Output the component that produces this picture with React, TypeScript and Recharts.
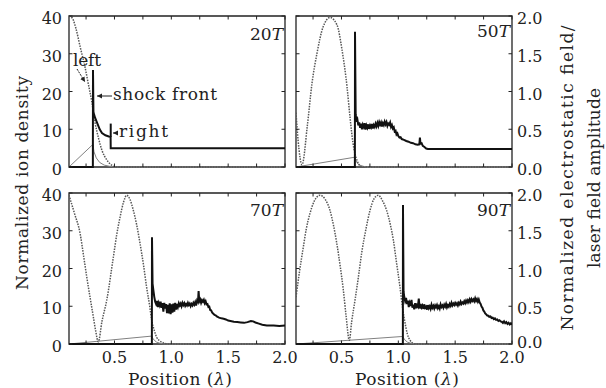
import React from 'react';
import { ComposedChart, Line, XAxis, YAxis, ReferenceArea, ReferenceLine } from 'recharts';

// [position (λ), value] pairs
const ion20 = [[0.1, 0], [0.31, 0], [0.311, 25.7], [0.315, 14.5], [0.33, 13], [0.35, 11.5], [0.37, 10], [0.39, 9], [0.42, 8.4], [0.45, 8.1], [0.466, 8], [0.467, 5], [2.0, 5]];
const laser20 = [[0.1, 2.0], [0.13, 1.97], [0.16, 1.84], [0.2, 1.58], [0.24, 1.33], [0.27, 1.1], [0.3, 0.87], [0.33, 0.58], [0.36, 0.38], [0.39, 0.22], [0.43, 0.1], [0.47, 0.03], [0.52, 0], [2.0, 0]];
const field20 = [[0.1, 0], [0.311, 0.3], [0.32, 0.2], [0.34, 0.12], [0.37, 0.06], [0.41, 0.025], [0.46, 0.008], [0.52, 0], [2.0, 0]];

const ion50 = [[0.1, 0], [0.618, 0], [0.619, 35.8], [0.625, 14], [0.632, 12], [0.64, 12.6], [0.648, 11], [0.656, 11.8], [0.664, 10.4], [0.672, 11.5], [0.68, 10], [0.688, 11.2], [0.696, 10.6], [0.704, 11.6], [0.712, 9.9], [0.72, 11], [0.728, 10.4], [0.736, 11.3], [0.744, 10.1], [0.752, 11], [0.76, 10.5], [0.768, 11.4], [0.776, 10.2], [0.784, 11.1], [0.792, 10.6], [0.8, 11.5], [0.808, 10.8], [0.816, 11.7], [0.824, 10.9], [0.832, 11.9], [0.84, 11.2], [0.848, 11.8], [0.856, 10.7], [0.864, 11.6], [0.872, 11.1], [0.88, 12], [0.888, 11.3], [0.896, 11.9], [0.904, 10.9], [0.912, 11.5], [0.92, 11.2], [0.928, 11.8], [0.936, 10.6], [0.944, 11.1], [0.952, 10.2], [0.96, 10.5], [0.968, 9.4], [0.976, 9.6], [0.984, 8.6], [0.992, 8.9], [1.0, 8.2], [1.01, 7.8], [1.02, 7.9], [1.03, 7.4], [1.05, 7.2], [1.07, 6.9], [1.09, 6.7], [1.11, 6.4], [1.13, 6.3], [1.15, 6.0], [1.17, 5.9], [1.185, 6.0], [1.19, 7.8], [1.195, 6.2], [1.205, 6.3], [1.215, 5.6], [1.23, 5.3], [1.245, 4.9], [1.26, 4.8], [2.0, 4.8]];
const laser50 = [[0.1, 0.72], [0.118, 0.36], [0.153, 0.03], [0.2, 0.55], [0.24, 1.1], [0.285, 1.51], [0.337, 1.85], [0.4, 1.98], [0.461, 1.88], [0.505, 1.55], [0.549, 1.06], [0.575, 0.66], [0.601, 0.32], [0.636, 0.09], [0.68, 0], [2.0, 0]];
const field50 = [[0.1, 0], [0.619, 0.13], [0.625, 0.09], [0.64, 0.05], [0.66, 0.025], [0.69, 0.01], [0.72, 0], [2.0, 0]];

const ion70 = [[0.1, 0], [0.829, 0], [0.83, 28.3], [0.835, 16], [0.842, 14.3], [0.85, 12.5], [0.858, 11.2], [0.866, 10.6], [0.874, 11.4], [0.882, 9.8], [0.89, 10.9], [0.898, 10.2], [0.906, 11.2], [0.914, 9.6], [0.922, 10.8], [0.93, 8.6], [0.938, 10.9], [0.946, 9.4], [0.954, 10.6], [0.962, 8.2], [0.97, 10.4], [0.978, 8.1], [0.986, 10.8], [0.994, 7.9], [1.002, 10.5], [1.01, 8.3], [1.018, 10.7], [1.026, 8.6], [1.034, 10.9], [1.042, 9.1], [1.05, 10.6], [1.058, 9.8], [1.066, 10.8], [1.074, 10.2], [1.082, 10.7], [1.09, 10.0], [1.098, 10.9], [1.106, 10.3], [1.114, 10.8], [1.122, 10.1], [1.13, 10.6], [1.138, 10.2], [1.146, 10.9], [1.154, 10.3], [1.162, 10.7], [1.17, 10.0], [1.178, 10.6], [1.186, 10.2], [1.194, 10.9], [1.202, 10.4], [1.21, 11.1], [1.218, 10.2], [1.226, 11.4], [1.234, 10.8], [1.24, 14.0], [1.246, 11.3], [1.254, 11.8], [1.262, 10.9], [1.27, 11.6], [1.278, 11.2], [1.286, 11.7], [1.294, 10.8], [1.302, 11.3], [1.31, 10.5], [1.318, 10.6], [1.326, 9.8], [1.334, 9.9], [1.342, 9.0], [1.35, 8.9], [1.36, 8.3], [1.37, 8.0], [1.38, 7.7], [1.39, 7.6], [1.4, 7.3], [1.42, 7.0], [1.44, 6.8], [1.46, 6.7], [1.48, 6.5], [1.5, 6.2], [1.52, 6.1], [1.55, 5.9], [1.58, 5.8], [1.61, 5.7], [1.64, 5.6], [1.67, 5.8], [1.7, 6.1], [1.72, 6.0], [1.74, 5.7], [1.77, 5.4], [1.8, 5.1], [1.84, 4.9], [1.9, 4.9], [1.95, 4.8], [2.0, 4.9]];
const laser70 = [[0.1, 1.97], [0.15, 1.72], [0.197, 1.47], [0.23, 1.15], [0.256, 0.89], [0.285, 0.62], [0.314, 0.36], [0.335, 0.17], [0.358, 0.03], [0.39, 0.3], [0.432, 0.58], [0.49, 1.15], [0.52, 1.45], [0.549, 1.68], [0.58, 1.88], [0.607, 1.97], [0.635, 1.92], [0.666, 1.77], [0.695, 1.58], [0.724, 1.34], [0.755, 1.05], [0.783, 0.75], [0.81, 0.5], [0.827, 0.32], [0.85, 0.18], [0.871, 0.09], [0.9, 0.04], [0.93, 0.015], [0.97, 0], [2.0, 0]];
const field70 = [[0.1, 0], [0.83, 0.105], [0.835, 0.08], [0.85, 0.05], [0.87, 0.025], [0.9, 0.01], [0.94, 0], [2.0, 0]];

const ion90 = [[0.1, 0], [1.04, 0], [1.041, 36.8], [1.046, 14], [1.052, 12.5], [1.06, 11.4], [1.068, 12.2], [1.076, 10.6], [1.084, 11.5], [1.092, 9.8], [1.1, 10.9], [1.108, 10.1], [1.116, 11.7], [1.124, 9.6], [1.132, 10.4], [1.14, 9.2], [1.148, 10.8], [1.156, 9.5], [1.164, 10.3], [1.172, 9.9], [1.18, 12.0], [1.188, 9.4], [1.196, 10.6], [1.204, 9.7], [1.212, 10.2], [1.22, 9.3], [1.228, 10.5], [1.236, 9.6], [1.244, 9.9], [1.252, 9.1], [1.26, 10.3], [1.268, 9.5], [1.276, 10.0], [1.284, 9.3], [1.292, 10.4], [1.3, 9.6], [1.308, 10.1], [1.316, 9.4], [1.324, 10.2], [1.332, 9.7], [1.34, 10.3], [1.348, 9.5], [1.356, 10.0], [1.364, 9.4], [1.372, 10.5], [1.38, 9.8], [1.388, 10.2], [1.396, 9.6], [1.404, 10.4], [1.412, 9.9], [1.42, 10.6], [1.428, 9.7], [1.436, 10.3], [1.444, 9.9], [1.452, 10.6], [1.46, 10.1], [1.468, 10.9], [1.476, 10.2], [1.484, 10.7], [1.492, 10.3], [1.5, 10.9], [1.508, 10.4], [1.516, 10.8], [1.524, 10.2], [1.532, 10.9], [1.54, 10.5], [1.548, 11.2], [1.556, 10.6], [1.564, 11.0], [1.572, 10.7], [1.58, 11.3], [1.588, 10.8], [1.596, 11.5], [1.604, 11.0], [1.612, 11.6], [1.62, 11.1], [1.628, 11.8], [1.636, 11.2], [1.644, 11.9], [1.652, 11.4], [1.66, 11.8], [1.668, 11.3], [1.676, 12.1], [1.684, 11.4], [1.692, 11.9], [1.7, 11.2], [1.708, 11.8], [1.716, 11.0], [1.724, 10.6], [1.732, 9.9], [1.74, 9.6], [1.748, 8.9], [1.756, 8.6], [1.764, 8.1], [1.772, 7.9], [1.78, 7.6], [1.79, 7.5], [1.8, 7.2], [1.81, 7.3], [1.82, 6.9], [1.83, 7.0], [1.84, 6.6], [1.85, 6.8], [1.86, 6.4], [1.87, 6.5], [1.88, 6.1], [1.89, 6.3], [1.9, 6.0], [1.91, 5.9], [1.92, 5.6], [1.93, 6.0], [1.94, 5.5], [1.95, 5.8], [1.96, 5.3], [1.97, 5.6], [1.98, 5.2], [1.99, 5.5], [2.0, 5.1]];
const laser90 = [[0.1, 0.62], [0.13, 0.95], [0.164, 1.28], [0.19, 1.52], [0.223, 1.73], [0.26, 1.89], [0.311, 1.97], [0.355, 1.92], [0.399, 1.77], [0.43, 1.57], [0.458, 1.34], [0.487, 1.05], [0.516, 0.72], [0.54, 0.38], [0.569, 0.05], [0.59, 0.3], [0.619, 0.58], [0.65, 0.9], [0.678, 1.21], [0.715, 1.52], [0.751, 1.77], [0.785, 1.92], [0.824, 1.97], [0.86, 1.9], [0.897, 1.77], [0.93, 1.58], [0.956, 1.38], [0.985, 1.07], [1.015, 0.75], [1.04, 0.45], [1.059, 0.28], [1.08, 0.13], [1.103, 0.05], [1.13, 0.01], [1.16, 0], [2.0, 0]];
const field90 = [[0.1, 0], [1.041, 0.1], [1.046, 0.08], [1.06, 0.05], [1.08, 0.025], [1.11, 0.01], [1.15, 0], [2.0, 0]];

const xTicks = [0.25, 0.5, 0.75, 1.0, 1.25, 1.5, 1.75, 2.0];
const ionTicks = [0, 10, 20, 30, 40];
const fieldTicks = [0, 0.5, 1.0, 1.5, 2.0];

const FONT = '"DejaVu Serif", "Liberation Serif", serif';
const INK = '#222';
const PW = 216;
const PH = 151;
const ML = 40;
const MR = 40;
const MT = 10;
const MB = 30;
const PL = ML;
const PR = ML + PW;
const PT = MT;
const PB = MT + PH;

const toPts = (arr: number[][]) => arr.map(([x, y]) => ({ x, y }));

const XTick = (props: any) => {
  const { x, payload, showLabel } = props;
  const v = payload.value;
  const major = Math.abs(v * 2 - Math.round(v * 2)) < 1e-6;
  return (
    <g>
      <line x1={x} x2={x} y1={PB} y2={PB - 3.5} stroke={INK} />
      <line x1={x} x2={x} y1={PT} y2={PT + 3.5} stroke={INK} />
      {showLabel && major && (
        <text x={x} y={PB + 19} textAnchor="middle" fontFamily={FONT} fontSize={16} fill={INK}>
          {v.toFixed(1)}
        </text>
      )}
    </g>
  );
};

const IonTick = (props: any) => {
  const { y, payload, showLabel } = props;
  return (
    <g>
      <line x1={PL} x2={PL + 3.5} y1={y} y2={y} stroke={INK} />
      <line x1={PR} x2={PR - 3.5} y1={y} y2={y} stroke={INK} />
      {showLabel && (
        <text x={PL - 7} y={y + 8} textAnchor="end" fontFamily={FONT} fontSize={16} fill={INK}>
          {payload.value}
        </text>
      )}
    </g>
  );
};

const FieldTick = (props: any) => {
  const { y, payload, low } = props;
  // the 0.0 label of the lower panel sits a little higher, clear of the x labels
  const dy = low && payload.value === 0 ? 3.5 : 8;
  return (
    <text x={PR + 5} y={y + dy} textAnchor="start" fontFamily={FONT} fontSize={16} fill={INK}>
      {payload.value.toFixed(1)}
    </text>
  );
};

interface PanelProps {
  left: number;
  top: number;
  ion: number[][];
  laser: number[][];
  field: number[][];
  bottom: boolean;
  side: 'left' | 'right';
  marker?: boolean;
}

const Panel = ({ left, top, ion, laser, field, bottom, side, marker }: PanelProps) => (
  <div style={{ position: 'absolute', left: left - ML, top: top - MT }}>
    <ComposedChart width={ML + PW + MR} height={MT + PH + MB} margin={{ top: MT, right: 0, bottom: 0, left: 0 }}>
      <XAxis
        type="number"
        dataKey="x"
        domain={[0.1, 2.0]}
        ticks={xTicks}
        interval={0}
        allowDataOverflow
        height={MB}
        axisLine={false}
        tickLine={false}
        tick={(p: any) => <XTick {...p} showLabel={bottom} />}
      />
      <YAxis
        yAxisId="ion"
        orientation="left"
        type="number"
        domain={[0, 40]}
        ticks={ionTicks}
        interval={0}
        width={ML}
        axisLine={false}
        tickLine={false}
        tick={(p: any) => <IonTick {...p} showLabel={side === 'left'} />}
      />
      <YAxis
        yAxisId="field"
        orientation="right"
        type="number"
        domain={[0, 2]}
        ticks={fieldTicks}
        interval={0}
        width={MR}
        axisLine={false}
        tickLine={false}
        tick={side === 'right' ? (p: any) => <FieldTick {...p} low={bottom} /> : false}
      />
      <Line
        yAxisId="field"
        data={toPts(field)}
        dataKey="y"
        type="linear"
        stroke="#808080"
        strokeWidth={1}
        dot={false}
        activeDot={false}
        isAnimationActive={false}
      />
      <Line
        yAxisId="field"
        data={toPts(laser)}
        dataKey="y"
        type="monotone"
        stroke="#555"
        strokeWidth={1.5}
        strokeDasharray="1.5 1.2"
        dot={false}
        activeDot={false}
        isAnimationActive={false}
      />
      <Line
        yAxisId="ion"
        data={toPts(ion)}
        dataKey="y"
        type="linear"
        stroke="#111"
        strokeWidth={2}
        dot={false}
        activeDot={false}
        isAnimationActive={false}
      />
      {marker && (
        <ReferenceLine
          yAxisId="ion"
          segment={[{ x: 0.467, y: 8 }, { x: 0.467, y: 11.5 }]}
          stroke="#111"
          strokeWidth={2}
        />
      )}
      <ReferenceArea
        yAxisId="ion"
        x1={0.1}
        x2={2.0}
        y1={0}
        y2={40}
        fill="none"
        fillOpacity={0}
        stroke={INK}
        strokeWidth={1.3}
      />
    </ComposedChart>
  </div>
);

const PanelTag = ({ x, y, n }: { x: number; y: number; n: string }) => (
  <text x={x} y={y} textAnchor="end" fontFamily={FONT} fontSize={17} fill={INK}>
    {n}
    <tspan fontStyle="italic">T</tspan>
  </text>
);

const Overlay = () => (
  <svg width={606} height={388} style={{ position: 'absolute', left: 0, top: 0, pointerEvents: 'none' }}>
    <defs>
      <marker id="ah" markerWidth="6" markerHeight="6" refX="5" refY="3" orient="auto">
        <path d="M0,0.5 L5,3 L0,5.5 z" fill={INK} />
      </marker>
    </defs>
    <text transform="translate(22,183) rotate(-90)" dy="0.35em" textAnchor="middle" fontFamily={FONT} fontSize={17} fill={INK} textLength={214} lengthAdjust="spacing">
      Normalized ion density
    </text>
    <text transform="translate(567,178) rotate(-90)" dy="0.35em" textAnchor="middle" fontFamily={FONT} fontSize={17} fill={INK} textLength={305} lengthAdjust="spacing">
      Normalized electrostatic field/
    </text>
    <text transform="translate(594,178) rotate(-90)" dy="0.35em" textAnchor="middle" fontFamily={FONT} fontSize={17} fill={INK} textLength={180} lengthAdjust="spacing">
      laser field amplitude
    </text>
    <text x={180} y={384.5} textAnchor="middle" fontFamily={FONT} fontSize={17} fill={INK} textLength={104} lengthAdjust="spacing">
      Position (<tspan fontStyle="italic">λ</tspan>)
    </text>
    <text x={407} y={384.5} textAnchor="middle" fontFamily={FONT} fontSize={17} fill={INK} textLength={104} lengthAdjust="spacing">
      Position (<tspan fontStyle="italic">λ</tspan>)
    </text>
    <PanelTag x={283} y={40} n="20" />
    <PanelTag x={510} y={37} n="50" />
    <PanelTag x={283} y={216} n="70" />
    <PanelTag x={510} y={216} n="90" />
    <text x={73} y={66} fontFamily={FONT} fontSize={17} fill={INK} textLength={28} lengthAdjust="spacing">left</text>
    <line x1={77} y1={69} x2={85} y2={82} stroke={INK} strokeWidth={1} strokeDasharray="2 1" markerEnd="url(#ah)" />
    <text x={113} y={100} fontFamily={FONT} fontSize={17} fill={INK} textLength={104} lengthAdjust="spacing">shock front</text>
    <line x1={112} y1={96} x2={97} y2={96} stroke={INK} strokeWidth={1} markerEnd="url(#ah)" />
    <text x={119} y={137} fontFamily={FONT} fontSize={17} fill={INK} textLength={49} lengthAdjust="spacing">right</text>
    <line x1={118} y1={133} x2={113} y2={133} stroke={INK} strokeWidth={1} markerEnd="url(#ah)" />
  </svg>
);

export default function App() {
  return (
    <div style={{ position: 'absolute', left: 0, top: 0, width: 606, height: 388, background: '#fff' }}>
      <Panel left={69} top={16} ion={ion20} laser={laser20} field={field20} bottom={false} side="left" marker />
      <Panel left={296} top={16} ion={ion50} laser={laser50} field={field50} bottom={false} side="right" />
      <Panel left={69} top={193} ion={ion70} laser={laser70} field={field70} bottom side="left" />
      <Panel left={296} top={193} ion={ion90} laser={laser90} field={field90} bottom side="right" />
      <Overlay />
    </div>
  );
}
